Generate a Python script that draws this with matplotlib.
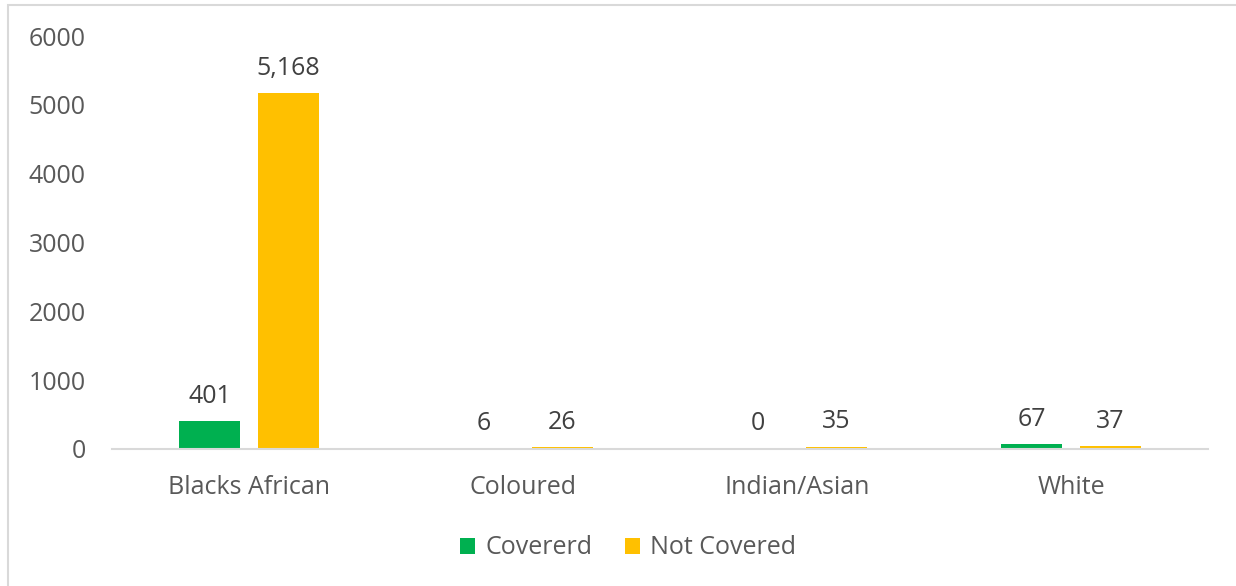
import numpy as np
import matplotlib.pyplot as plt
from matplotlib.patches import Rectangle

categories = ["Blacks African", "Coloured", "Indian/Asian", "White"]
covered = [401, 6, 0, 67]
not_covered = [5168, 26, 35, 37]
yticks = [0, 1000, 2000, 3000, 4000, 5000, 6000]

green = "#00b050"
yellow = "#ffc000"
grey_txt = "#595959"

plt.rcParams['font.family'] = ['Open Sans', 'DejaVu Sans']

fig = plt.figure(figsize=(12.36, 5.86), dpi=100)
ax = fig.add_axes([112 / 1236, 137 / 586, 1096 / 1236, 413 / 586])

# outer chart frame (partly cropped in the original)
fig.patches.append(Rectangle((8 / 1236, -0.1), 1.2, (586 - 5) / 586 + 0.1,
                             transform=fig.transFigure, fill=False,
                             edgecolor="#d9d9d9", linewidth=1.5))

x = np.arange(len(categories))
w = 0.223
b1 = ax.bar(x - 0.143, covered, w, color=green, label="Covererd")
b2 = ax.bar(x + 0.143, not_covered, w, color=yellow, label="Not Covered")

for bars, vals in [(b1, covered), (b2, not_covered)]:
    for r, v in zip(bars, vals):
        ax.annotate(f"{v:,}", (r.get_x() + r.get_width() / 2, v),
                    xytext=(0, 9), textcoords="offset points",
                    ha="center", va="bottom", fontsize=18, color="#404040")

ax.set_xlim(-0.5, 3.5)
ax.set_ylim(0, 6000)
ax.set_yticks(yticks)
ax.set_yticklabels([str(t) for t in yticks])
ax.set_xticks(x)
ax.set_xticklabels(categories)
ax.tick_params(axis="both", length=0, labelsize=18, colors=grey_txt)
ax.tick_params(axis="y", pad=19)
ax.tick_params(axis="x", pad=19)
for s in ["top", "right", "left"]:
    ax.spines[s].set_visible(False)
ax.spines["bottom"].set_color("#d9d9d9")
ax.spines["bottom"].set_linewidth(1.5)

leg = fig.legend(loc="center", bbox_to_anchor=(628 / 1236, 1 - 548 / 586),
                 ncol=2, frameon=False, fontsize=18, handlelength=0.6,
                 handleheight=0.6, columnspacing=1.3, handletextpad=0.4)
for t in leg.get_texts():
    t.set_color(grey_txt)

fig.savefig("out.png", dpi=100)
